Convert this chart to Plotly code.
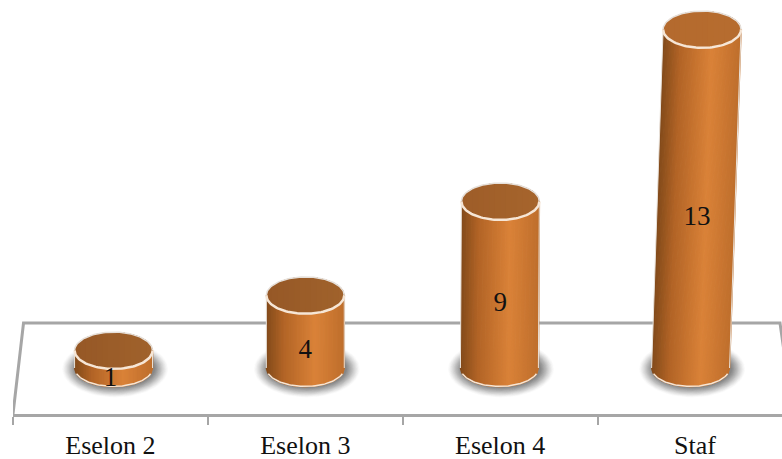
import numpy as np
import plotly.graph_objects as go

# Data
categories = ["Eselon 2", "Eselon 3", "Eselon 4", "Staf"]
bar_heights = [0.95, 3.95, 9.05, 18.4]  # drawn heights (the tallest bar is drawn taller than its label says)
bar_labels = ["1", "4", "9", "13"]      # printed data labels
top_lean = [0.0, 0.0, 0.005, 0.059]
base_shift = [0.016, 0.0, -0.004, -0.023]

W, H = 782, 459
LEFT, BOTTOM = 13, 414
UNIT_X, UNIT_Y = 195.0, 18.4
BASE_PX = 368.0
HALF_W, HALF_H = 0.2, 1.0
X_MAX = (W - 110) / UNIT_X
Y_MIN = -(BOTTOM - BASE_PX) / UNIT_Y
Y_MAX = BASE_PX / UNIT_Y
BACK = (BASE_PX - 323) / UNIT_Y
GREY = "#a6a6a6"
RIM = "#f6e6d6"


def mix(c1, c2, f):
    return tuple(a + (b - a) * f for a, b in zip(c1, c2))


def css(c):
    return "rgb(%d,%d,%d)" % tuple(round(v) for v in c)


def body_colour(s):
    stops = [(0.0, (130, 74, 26)), (0.22, (178, 100, 38)), (0.62, (218, 130, 56)), (1.0, (190, 110, 44))]
    for (a, ca), (b, cb) in zip(stops, stops[1:]):
        if s <= b:
            return css(mix(ca, cb, (s - a) / (b - a)))
    return css(stops[-1][1])


def top_colour(s, bright):
    base = mix((150, 88, 38), (160, 98, 44), s)
    return css(mix(base, (190, 112, 48), bright))


fig = go.Figure()

# Floor outline
fig.add_trace(go.Scatter(
    x=[-0.5, -0.446, (780 - 110) / UNIT_X, (793 - 110) / UNIT_X],
    y=[Y_MIN, BACK, BACK, Y_MIN],
    mode="lines", line=dict(color=GREY, width=3), hoverinfo="skip", showlegend=False))

# Soft shadows on the floor: faint outer layers, stronger toward the cylinder
theta = np.linspace(0, 2 * np.pi, 73)
LAYERS = 24
for k in range(LAYERS):
    f = 1 - k / LAYERS
    alpha = 0.018 + 0.05 * (k / LAYERS)
    xs, ys = [], []
    for i in range(len(categories)):
        cx = i + base_shift[i] + 0.008
        xs += list(cx + (0.2 + 0.072 * f) * np.cos(theta)) + [None]
        ys += list(-0.05 + (1.0 + 0.55 * f) * np.sin(theta)) + [None]
    fig.add_trace(go.Scatter(x=xs, y=ys, mode="lines", fill="toself", line=dict(width=0),
                             fillcolor="rgba(80,80,80,%.3f)" % alpha, hoverinfo="skip", showlegend=False))

# Cylinder walls, one trace per colour band
N = 48
edges = np.linspace(-1, 1, N + 1)
arc = lambda t: np.sqrt(np.clip(1 - t * t, 0, 1))
for j in range(N):
    t0, t1 = edges[j], edges[j + 1]
    xs, ys = [], []
    for i, h in enumerate(bar_heights):
        lean = top_lean[i]
        b = i + base_shift[i]
        d0, d1 = HALF_W * t0, HALF_W * t1
        xs += [b + d0, b + d1, b + lean + d1, b + lean + d0, None]
        ys += [-HALF_H * arc(t0), -HALF_H * arc(t1), h - HALF_H * arc(t1), h - HALF_H * arc(t0), None]
    colour = body_colour((j + 0.5) / N)
    fig.add_trace(go.Scatter(x=xs, y=ys, mode="lines", fill="toself",
                             line=dict(width=1.5, color=colour),
                             fillcolor=colour, hoverinfo="skip", showlegend=False))

# Pale wall edges and base rim
xs, ys = [], []
for i, h in enumerate(bar_heights):
    b = i + base_shift[i]
    for side in (-1, 1):
        xs += [b + side * HALF_W, b + top_lean[i] + side * HALF_W, None]
        ys += [0, h, None]
fig.add_trace(go.Scatter(x=xs, y=ys, mode="lines", line=dict(color="#e9e2da", width=1),
                         hoverinfo="skip", showlegend=False))
front = np.linspace(-0.95, 0.95, 61)
xs, ys = [], []
for i in range(len(bar_heights)):
    xs += list(i + base_shift[i] + HALF_W * front) + [None]
    ys += list(-HALF_H * arc(front)) + [None]
fig.add_trace(go.Scatter(x=xs, y=ys, mode="lines", line=dict(color=RIM, width=1.5),
                         hoverinfo="skip", showlegend=False))

# Top caps: each band paints from its left edge to the right end, so no seams show
for i, h in enumerate(bar_heights):
    cx = i + base_shift[i] + top_lean[i]
    bright = 0.75 if i == 3 else (0.2 if i == 2 else 0.0)
    M = 14
    for j in range(M):
        u = np.linspace(-1 + 2 * j / M, 1, 60)
        px = list(cx + HALF_W * u) + list(cx + HALF_W * u[::-1])
        py = list(h + HALF_H * arc(u)) + list(h - HALF_H * arc(u[::-1]))
        c = top_colour((j + 0.5) / M, bright)
        fig.add_trace(go.Scatter(x=px, y=py, mode="lines", fill="toself", fillcolor=c,
                                 line=dict(width=0, color=c), hoverinfo="skip", showlegend=False))
    back = np.linspace(0, np.pi, 61)
    fig.add_trace(go.Scatter(x=cx + HALF_W * np.cos(back), y=h + HALF_H * np.sin(back), mode="lines",
                             line=dict(color="#e6e0da", width=1.5), hoverinfo="skip", showlegend=False))
    fwd = np.linspace(np.pi, 2 * np.pi, 61)
    fig.add_trace(go.Scatter(x=cx + HALF_W * np.cos(fwd), y=h + HALF_H * np.sin(fwd), mode="lines",
                             line=dict(color=RIM, width=2.5), hoverinfo="skip", showlegend=False))

# Data labels
fig.add_trace(go.Scatter(
    x=[i + (0.01 if i == 3 else 0.0) for i in range(4)],
    y=[h / 2 - 1.08 for h in bar_heights],
    text=bar_labels, mode="text", textposition="middle center",
    textfont=dict(family="Liberation Serif", size=27, color="#111111"),
    hoverinfo="skip", showlegend=False))

fig.update_layout(
    width=W, height=H, margin=dict(l=LEFT, r=0, t=0, b=H - BOTTOM, autoexpand=False),
    plot_bgcolor="white", paper_bgcolor="white", showlegend=False,
    xaxis=dict(range=[-0.5, X_MAX], tickmode="array", tickvals=list(range(4)), ticktext=categories,
               ticks="", showgrid=False, zeroline=False, showline=True, linecolor=GREY, linewidth=3,
               automargin=False,
               tickfont=dict(family="Liberation Serif", size=26, color="#111111"),
               ticklabelstandoff=6,
               minor=dict(tickmode="array", tickvals=[-0.5, 0.5, 1.5, 2.5], ticks="outside",
                          ticklen=8, tickwidth=1.5, tickcolor=GREY, showgrid=False)),
    yaxis=dict(range=[Y_MIN, Y_MAX], visible=False, showgrid=False, zeroline=False),
)
fig.write_html("out.html", config={"displayModeBar": False},
               post_script="document.body.style.margin='0';document.documentElement.style.overflow='hidden';")
